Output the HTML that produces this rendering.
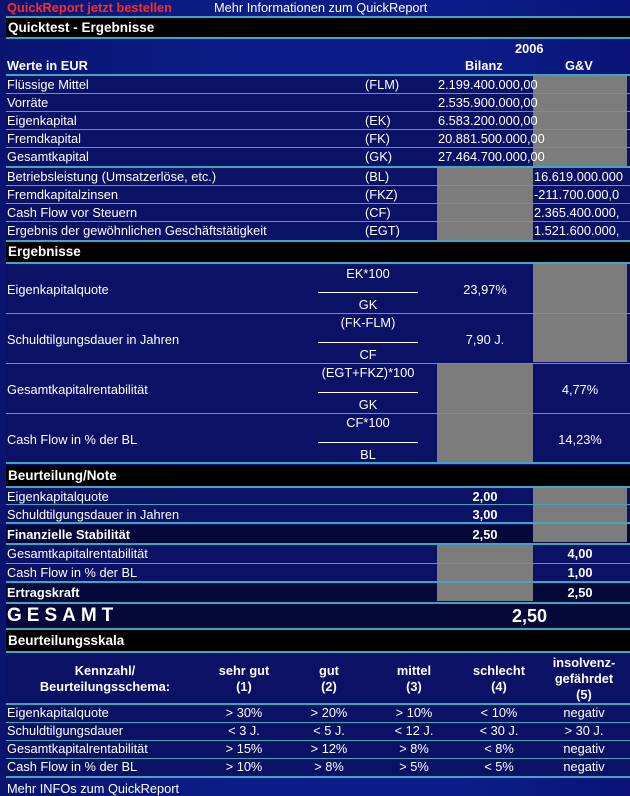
<!DOCTYPE html>
<html><head><meta charset="utf-8"><style>
*{margin:0;padding:0;box-sizing:border-box}
body{width:630px;height:782px;overflow:hidden;background:linear-gradient(90deg,#0a1470 0%,#0c1d8a 40%,#0c1d8a 70%,#0a1478 100%);font-family:"Liberation Sans",Arial,sans-serif;font-size:12.8px;color:#fff;position:relative}
.a{position:absolute;white-space:nowrap}
.row{position:absolute;left:6px;width:624px;background:#0b1266}
.blk{position:absolute;left:6px;width:624px;background:#000;font-weight:bold;padding-left:2px;font-size:13.5px}
.ln{position:absolute;left:6px;width:624px;height:2px;background:#3fa6c0}
.g{position:absolute;background:#7c7c7c}
.b{font-weight:bold}
.c{text-align:center}
</style></head><body>
<div class="a" style="left:7px;top:0;color:#ff2a2a;font-weight:bold">QuickReport jetzt bestellen</div>
<div class="a" style="left:214px;top:0">Mehr Informationen zum QuickReport</div>
<div class="ln" style="top:16px"></div>
<div class="blk" style="top:18px;height:19px;line-height:19px">Quicktest - Ergebnisse</div>
<div class="ln" style="top:37px"></div>
<div class="a b" style="left:515px;top:41px">2006</div>
<div class="a b" style="left:7px;top:58px">Werte in EUR</div>
<div class="a b" style="left:465px;top:58px">Bilanz</div>
<div class="a b" style="left:565px;top:58px">G&amp;V</div>
<div class="ln" style="top:74px"></div>

<div class="row" style="top:76px;height:165px"></div>
<div class="g" style="left:533px;top:76px;width:94px;height:90px"></div>
<div class="g" style="left:437px;top:168px;width:96px;height:73px"></div>
<div class="ln" style="top:93px;height:1px"></div>
<div class="ln" style="top:111px;height:1px"></div>
<div class="ln" style="top:129px;height:1px"></div>
<div class="ln" style="top:147px;height:1px"></div>
<div class="ln" style="top:166px"></div>
<div class="ln" style="top:185px;height:1px"></div>
<div class="ln" style="top:203px;height:1px"></div>
<div class="ln" style="top:221px;height:1px"></div>
<div class="ln" style="top:240px"></div>

<div class="a" style="left:7px;top:77px">Flüssige Mittel</div><div class="a" style="left:365px;top:77px">(FLM)</div><div class="a" style="left:438px;top:77px">2.199.400.000,00</div>
<div class="a" style="left:7px;top:95px">Vorräte</div><div class="a" style="left:438px;top:95px">2.535.900.000,00</div>
<div class="a" style="left:7px;top:113px">Eigenkapital</div><div class="a" style="left:365px;top:113px">(EK)</div><div class="a" style="left:438px;top:113px">6.583.200.000,00</div>
<div class="a" style="left:7px;top:131px">Fremdkapital</div><div class="a" style="left:365px;top:131px">(FK)</div><div class="a" style="left:438px;top:131px">20.881.500.000,00</div>
<div class="a" style="left:7px;top:149px">Gesamtkapital</div><div class="a" style="left:365px;top:149px">(GK)</div><div class="a" style="left:438px;top:149px">27.464.700.000,00</div>
<div class="a" style="left:7px;top:169px">Betriebsleistung (Umsatzerlöse, etc.)</div><div class="a" style="left:365px;top:169px">(BL)</div><div class="a" style="left:534px;top:169px">16.619.000.000</div>
<div class="a" style="left:7px;top:187px">Fremdkapitalzinsen</div><div class="a" style="left:365px;top:187px">(FKZ)</div><div class="a" style="left:534px;top:187px">-211.700.000,0</div>
<div class="a" style="left:7px;top:205px">Cash Flow vor Steuern</div><div class="a" style="left:365px;top:205px">(CF)</div><div class="a" style="left:534px;top:205px">2.365.400.000,</div>
<div class="a" style="left:7px;top:223px">Ergebnis der gewöhnlichen Geschäftstätigkeit</div><div class="a" style="left:365px;top:223px">(EGT)</div><div class="a" style="left:534px;top:223px">1.521.600.000,</div>

<div class="blk" style="top:242px;height:20px;line-height:20px">Ergebnisse</div>
<div class="ln" style="top:262px"></div>
<div class="row" style="top:264px;height:199px"></div>
<div class="g" style="left:533px;top:264px;width:94px;height:98px"></div>
<div class="g" style="left:437px;top:364px;width:96px;height:99px"></div>
<div class="ln" style="top:313px;height:1px"></div>
<div class="ln" style="top:363px;height:1px"></div>
<div class="ln" style="top:413px;height:1px"></div>
<div class="ln" style="top:462px"></div>

<div class="a" style="left:7px;top:282px">Eigenkapitalquote</div>
<div class="a c" style="left:318px;width:100px;top:266px">EK*100</div>
<div class="a" style="left:318px;top:292px;width:100px;height:1px;background:#fff"></div>
<div class="a c" style="left:318px;width:100px;top:297px">GK</div>
<div class="a c" style="left:437px;width:96px;top:282px">23,97%</div>

<div class="a" style="left:7px;top:332px">Schuldtilgungsdauer in Jahren</div>
<div class="a c" style="left:318px;width:100px;top:315px">(FK-FLM)</div>
<div class="a" style="left:318px;top:342px;width:100px;height:1px;background:#fff"></div>
<div class="a c" style="left:318px;width:100px;top:347px">CF</div>
<div class="a c" style="left:437px;width:96px;top:332px">7,90 J.</div>

<div class="a" style="left:7px;top:382px">Gesamtkapitalrentabilität</div>
<div class="a c" style="left:308px;width:120px;top:365px">(EGT+FKZ)*100</div>
<div class="a" style="left:318px;top:392px;width:100px;height:1px;background:#fff"></div>
<div class="a c" style="left:318px;width:100px;top:397px">GK</div>
<div class="a c" style="left:533px;width:94px;top:382px">4,77%</div>

<div class="a" style="left:7px;top:432px">Cash Flow in % der BL</div>
<div class="a c" style="left:318px;width:100px;top:415px">CF*100</div>
<div class="a" style="left:318px;top:442px;width:100px;height:1px;background:#fff"></div>
<div class="a c" style="left:318px;width:100px;top:447px">BL</div>
<div class="a c" style="left:533px;width:94px;top:432px">14,23%</div>

<div class="blk" style="top:465px;height:21px;line-height:21px">Beurteilung/Note</div>
<div class="ln" style="top:486px"></div>
<div class="row" style="top:488px;height:114px"></div>
<div class="row" style="top:525px;height:18px;background:#050838"></div>
<div class="row" style="top:584px;height:18px;background:#050838"></div>
<div class="g" style="left:533px;top:488px;width:94px;height:54px"></div>
<div class="g" style="left:437px;top:545px;width:96px;height:56px"></div>
<div class="ln" style="top:504px;height:1px"></div>
<div class="ln" style="top:522px"></div>
<div class="ln" style="top:543px"></div>
<div class="ln" style="top:563px;height:1px"></div>
<div class="ln" style="top:581px"></div>
<div class="ln" style="top:602px"></div>

<div class="a" style="left:7px;top:489px">Eigenkapitalquote</div><div class="a b c" style="left:437px;width:96px;top:489px">2,00</div>
<div class="a" style="left:7px;top:507px">Schuldtilgungsdauer in Jahren</div><div class="a b c" style="left:437px;width:96px;top:507px">3,00</div>
<div class="a b" style="left:7px;top:527px">Finanzielle Stabilität</div><div class="a b c" style="left:437px;width:96px;top:527px">2,50</div>
<div class="a" style="left:7px;top:546px">Gesamtkapitalrentabilität</div><div class="a b c" style="left:533px;width:94px;top:546px">4,00</div>
<div class="a" style="left:7px;top:565px">Cash Flow in % der BL</div><div class="a b c" style="left:533px;width:94px;top:565px">1,00</div>
<div class="a b" style="left:7px;top:585px">Ertragskraft</div><div class="a b c" style="left:533px;width:94px;top:585px">2,50</div>

<div class="row" style="top:604px;height:24px;background:#050838"></div>
<div class="a b" style="left:7px;top:605px;font-size:19px;letter-spacing:5px">GESAMT</div>
<div class="a b" style="left:512px;top:606px;font-size:18px">2,50</div>
<div class="ln" style="top:628px"></div>
<div class="blk" style="top:630px;height:21px;line-height:21px">Beurteilungsskala</div>
<div class="ln" style="top:651px"></div>
<div class="row" style="top:653px;height:124px"></div>
<div class="a b c" style="left:20px;width:170px;top:663px;line-height:16px">Kennzahl/<br>Beurteilungsschema:</div>
<div class="a b c" style="left:204px;width:80px;top:663px;line-height:16px">sehr gut<br>(1)</div>
<div class="a b c" style="left:289px;width:80px;top:663px;line-height:16px">gut<br>(2)</div>
<div class="a b c" style="left:374px;width:80px;top:663px;line-height:16px">mittel<br>(3)</div>
<div class="a b c" style="left:459px;width:80px;top:663px;line-height:16px">schlecht<br>(4)</div>
<div class="a b c" style="left:544px;width:80px;top:655px;line-height:16px">insolvenz-<br>gefährdet<br>(5)</div>
<div class="ln" style="top:703px"></div>
<div class="ln" style="top:722px;height:1px"></div>
<div class="ln" style="top:740px;height:1px"></div>
<div class="ln" style="top:758px;height:1px"></div>
<div class="ln" style="top:776px"></div>

<div class="a" style="left:7px;top:705px">Eigenkapitalquote</div>
<div class="a c" style="left:204px;width:80px;top:705px">&gt; 30%</div><div class="a c" style="left:289px;width:80px;top:705px">&gt; 20%</div><div class="a c" style="left:374px;width:80px;top:705px">&gt; 10%</div><div class="a c" style="left:459px;width:80px;top:705px">&lt; 10%</div><div class="a c" style="left:544px;width:80px;top:705px">negativ</div>
<div class="a" style="left:7px;top:723px">Schuldtilgungsdauer</div>
<div class="a c" style="left:204px;width:80px;top:723px">&lt; 3 J.</div><div class="a c" style="left:289px;width:80px;top:723px">&lt; 5 J.</div><div class="a c" style="left:374px;width:80px;top:723px">&lt; 12 J.</div><div class="a c" style="left:459px;width:80px;top:723px">&lt; 30 J.</div><div class="a c" style="left:544px;width:80px;top:723px">&gt; 30 J.</div>
<div class="a" style="left:7px;top:741px">Gesamtkapitalrentabilität</div>
<div class="a c" style="left:204px;width:80px;top:741px">&gt; 15%</div><div class="a c" style="left:289px;width:80px;top:741px">&gt; 12%</div><div class="a c" style="left:374px;width:80px;top:741px">&gt; 8%</div><div class="a c" style="left:459px;width:80px;top:741px">&lt; 8%</div><div class="a c" style="left:544px;width:80px;top:741px">negativ</div>
<div class="a" style="left:7px;top:759px">Cash Flow in % der BL</div>
<div class="a c" style="left:204px;width:80px;top:759px">&gt; 10%</div><div class="a c" style="left:289px;width:80px;top:759px">&gt; 8%</div><div class="a c" style="left:374px;width:80px;top:759px">&gt; 5%</div><div class="a c" style="left:459px;width:80px;top:759px">&lt; 5%</div><div class="a c" style="left:544px;width:80px;top:759px">negativ</div>
<div class="a" style="left:7px;top:781px">Mehr INFOs zum QuickReport</div>
</body></html>
